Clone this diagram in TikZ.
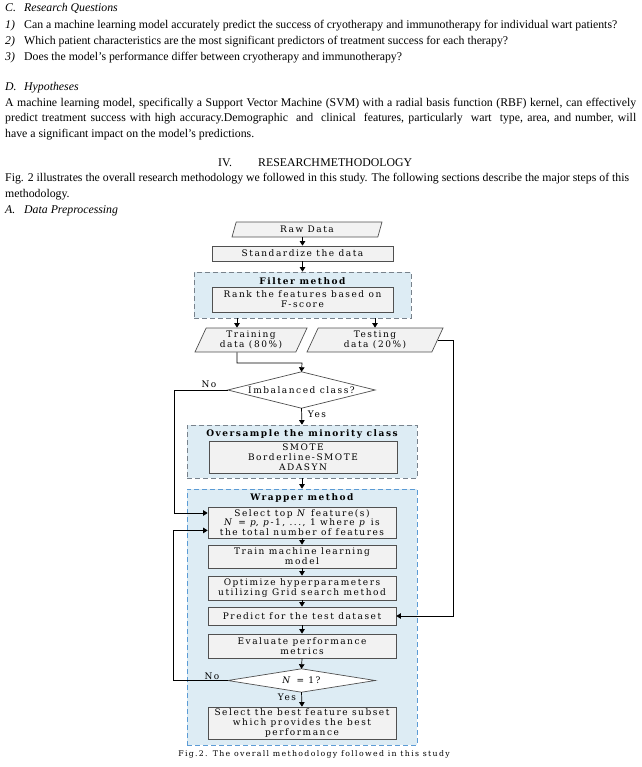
\documentclass[tikz,border=0pt]{standalone}
\usepackage{fontspec}
\setmainfont{Liberation Serif}
\newfontfamily\fcf[LetterSpace=17]{DejaVu Serif}
\usetikzlibrary{shapes.geometric,arrows.meta,calc}
\definecolor{regfill}{RGB}{221,236,244}
\definecolor{boxfill}{RGB}{242,242,242}
\definecolor{boxline}{RGB}{80,80,80}
\definecolor{wrapline}{RGB}{91,155,213}
\definecolor{regline}{RGB}{120,130,140}
\newcommand\fitline[2]{\sbox0{#2}\ifdim\wd0>#1\relax\resizebox{#1}{\height}{#2}\else\makebox[#1][s]{#2}\fi}
\begin{document}
\begin{tikzpicture}[x=1pt,y=-1pt,
  txt/.style={anchor=base west,inner sep=0pt,font=\fontsize{11.8}{14}\selectfont},
  fc/.style={font=\fcf\fontsize{9}{9.8}\selectfont},
  fcb/.style={font=\fcf\bfseries\fontsize{9}{9.8}\selectfont,inner sep=0pt},
  stepbox/.style={fc,draw=boxline,fill=boxfill,line width=0.7pt,align=center,inner sep=0pt,minimum width=188pt},
  region/.style={draw=regline,fill=regfill,line width=0.7pt,dash pattern=on 5pt off 3pt,inner sep=0pt},
  para/.style={fc,draw=boxline,fill=boxfill,line width=0.7pt,align=center,trapezium,trapezium stretches body=true,inner sep=0pt,trapezium left angle=58,trapezium right angle=122},
  decbox/.style={fc,inner sep=0pt,align=center},
  decline/.style={draw=boxline,fill=white,line width=0.7pt},
  arr/.style={-{Triangle[length=4.5pt,width=5.5pt]},line width=0.7pt,black},
  lbl/.style={fc,inner sep=0pt}
]
\useasboundingbox (0,0) rectangle (641,767);
% ---------- text ----------
\node[txt] (hc1) at (5,12) {\itshape C.};
\node[txt] (hc2) at (24,12) {\itshape Research Questions};
\node[txt] (q1n) at (5,29) {\itshape 1)};
\node[txt] (q1) at (24,29) {Can a machine learning model accurately predict the success of cryotherapy and immunotherapy for individual wart patients?};
\node[txt] (q2n) at (5,45) {\itshape 2)};
\node[txt] (q2) at (24,45) {Which patient characteristics are the most significant predictors of treatment success for each therapy?};
\node[txt] (q3n) at (5,61) {\itshape 3)};
\node[txt] (q3) at (24,61) {Does the model's performance differ between cryotherapy and immunotherapy?};
\node[txt] (hd1) at (5,91) {\itshape D.};
\node[txt] (hd2) at (24,91) {\itshape Hypotheses};
\node[txt] (p1) at (5,107) {\fitline{631pt}{A machine learning model, specifically a Support Vector Machine (SVM) with a radial basis function (RBF) kernel, can effectively}};
\node[txt] (p2) at (5,122) {\fitline{631pt}{predict treatment success with high accuracy.Demographic \ and \ clinical \ features, particularly \ wart \ type, area, and number, will}};
\node[txt] (p3) at (5,138) {have a significant impact on the model's predictions.};
\node[txt] (s4a) at (218,167) {IV.};
\node[txt] (s4b) at (258,167) {\fitline{162pt}{RESEARCH\kern0.5pt METHODOLOGY}};
\node[txt] (f1) at (5,182) {\fitline{624pt}{Fig. 2 illustrates the overall research methodology we followed in this study. The following sections describe the major steps of this}};
\node[txt] (f2) at (5,198) {methodology.};
\node[txt] (ha1) at (5,214) {\itshape A.};
\node[txt] (ha2) at (24,214) {\itshape Data Preprocessing};
% ---------- regions ----------
\node[region,minimum width=217pt,minimum height=46pt] (filter) at (302.5,295) {};
\node[region,minimum width=230pt,minimum height=53pt] (over) at (302,451.5) {};
\node[region,draw=wrapline,minimum width=230pt,minimum height=256pt] (wrap) at (302,617) {};
\node[fcb] (tfil) at (302.5,281) {Filter method};
\node[fcb] (tover) at (302,434) {Oversample the minority class};
\node[fcb] (twrap) at (302,498) {Wrapper method};
% ---------- nodes ----------
\node[para,minimum width=150pt,minimum height=15pt] (raw) at (307,229.5) {Raw Data};
\node[stepbox,minimum width=181pt,minimum height=15pt] (std) at (302.5,253.5) {Standardize the data};
\node[stepbox,minimum width=181pt,minimum height=25pt] (rank) at (302.5,299.5) {Rank the features based on\\F-score};
\node[para,minimum width=112pt,minimum height=24pt] (trd) at (251,340) {Training\\data (80\%)};
\node[para,minimum width=136pt,minimum height=24pt] (tsd) at (375,340) {Testing\\data (20\%)};
\node[decbox,minimum width=147pt,minimum height=36pt] (imb) at (301.5,390) {};
\draw[decline] (imb.north) -- (imb.east) -- (imb.south) -- (imb.west) -- cycle;
\node[decbox] (imbt) at (imb.center) {Imbalanced class?};
\node[stepbox,minimum height=32pt] (smote) at (303,457) {SMOTE\\Borderline-SMOTE\\ADASYN};
\node[stepbox,minimum height=31pt] (sel) at (302,522.5) {Select top \textit{N} feature(s)\\\textit{N} = \textit{p}, \textit{p}-1, ..., 1 where \textit{p} is\\the total number of features};
\node[stepbox,minimum height=23pt] (train) at (302,556.5) {Train machine learning\\model};
\node[stepbox,minimum height=24pt] (optim) at (302,588) {Optimize hyperparameters\\utilizing Grid search method};
\node[stepbox,minimum height=18pt] (pred) at (302,616) {Predict for the test dataset};
\node[stepbox,minimum height=24pt] (eval) at (302,646) {Evaluate performance\\metrics};
\node[decbox,minimum width=147pt,minimum height=23pt] (n1) at (301.5,680.5) {};
\draw[decline] (n1.north) -- (n1.east) -- (n1.south) -- (n1.west) -- cycle;
\node[decbox] (n1t) at (n1.center) {\textit{N} = 1?};
\node[stepbox,minimum height=32pt] (best) at (302,723) {Select the best feature subset\\which provides the best\\performance};
\node[lbl,font=\fcf\fontsize{7.8}{8}\selectfont] (cap) at (314,754) {Fig.2. The overall methodology followed in this study};
% ---------- helper coordinates ----------
\coordinate (c1) at (237,0);
\coordinate (k1) at (302,363);
\coordinate (rx) at (453,0);
\coordinate (lx) at (174,0);
\coordinate (lx2) at (173,0);
\coordinate (s1) at ($(sel.north west)!0.2!(sel.south west)$);
\coordinate (s2) at ($(sel.north west)!0.75!(sel.south west)$);
% ---------- connectors ----------
\draw[arr] (raw.south -| std.north) -- (std.north);
\draw[arr] (std.south) -- (filter.north);
\draw[arr] (filter.south -| c1) -- (trd.north -| c1);
\draw[arr] (filter.south -| tsd.north) -- (tsd.north);
\draw[arr] (trd.south -| c1) |- (k1) -- (imb.north);
\draw[arr] (tsd.east) -| (pred.east -| rx) -- (pred.east);
\draw[arr] (imb.south) -- (over.north);
\node[lbl] (yes1) at (317,414) {Yes};
\draw[arr] (imb.west) -| (lx |- s1) -- (s1);
\node[lbl] (no1) at (209,384) {No};
\draw[arr] (over.south) -- (wrap.north);
\draw[arr] (sel.south) -- (train.north);
\draw[arr] (train.south) -- (optim.north);
\draw[arr] (optim.south) -- (pred.north);
\draw[arr] (pred.south) -- (eval.north);
\draw[arr] (eval.south) -- (n1.north);
\draw[arr] (n1.south) -- (best.north);
\node[lbl] (yes2) at (287,697) {Yes};
\draw[arr] (n1.west) -| (lx2 |- s2) -- (s2);
\node[lbl] (no2) at (212,676) {No};
\end{tikzpicture}
\end{document}
